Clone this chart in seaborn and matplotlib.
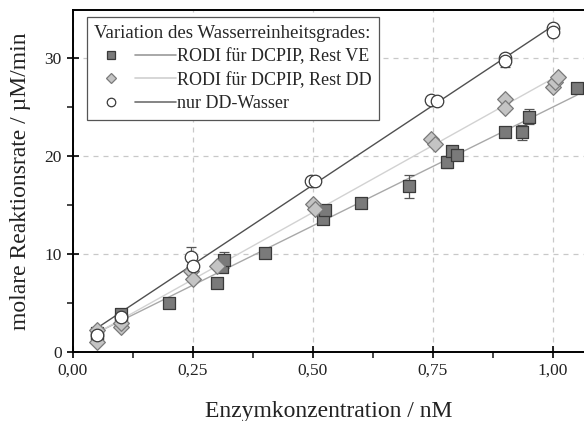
import numpy as np
import pandas as pd
import seaborn as sns
import matplotlib.pyplot as plt
from matplotlib.lines import Line2D
from matplotlib.legend_handler import HandlerBase
from matplotlib.ticker import FixedLocator, MultipleLocator

# --- data -------------------------------------------------------------
labels = ["RODI für DCPIP, Rest VE", "RODI für DCPIP, Rest DD", "nur DD-Wasser"]

ve_x = [0.05, 0.05, 0.10, 0.10, 0.20, 0.30, 0.31, 0.315, 0.40, 0.52, 0.525,
        0.60, 0.70, 0.78, 0.79, 0.80, 0.90, 0.935, 0.95, 1.05]
ve_y = [1.5, 1.9, 3.3, 3.9, 5.0, 7.0, 8.7, 9.4, 10.1, 13.6, 14.5,
        15.2, 16.9, 19.4, 20.5, 20.1, 22.5, 22.4, 24.0, 26.9]
ve_err = [0.2, 0.2, 0.2, 0.2, 0.2, 0.2, 0.2, 0.8, 0.2, 0.3, 0.3,
          0.2, 1.15, 0.6, 0.3, 0.3, 0.2, 0.75, 0.75, 0.2]

dd_x = [0.05, 0.05, 0.10, 0.10, 0.245, 0.25, 0.30, 0.50, 0.505, 0.745,
        0.755, 0.90, 0.90, 1.00, 1.005, 1.01]
dd_y = [1.05, 2.2, 2.6, 3.0, 8.3, 7.4, 8.8, 15.1, 14.6, 21.7,
        21.2, 25.8, 24.9, 27.0, 27.6, 28.1]
dd_err = [0.2, 0.2, 0.2, 0.2, 0.3, 0.3, 0.2, 0.2, 0.2, 0.2,
          0.2, 0.3, 0.3, 0.2, 0.2, 0.2]

w_x = [0.05, 0.10, 0.245, 0.25, 0.495, 0.505, 0.745, 0.758, 0.90, 0.90, 1.00, 1.00]
w_y = [1.7, 3.6, 9.7, 8.8, 17.4, 17.4, 25.7, 25.6, 30.0, 29.7, 33.1, 32.7]
w_err = [0.2, 0.2, 1.0, 0.3, 0.2, 0.2, 0.2, 0.2, 0.3, 0.6, 0.2, 0.2]

x_ticks = [0.0, 0.25, 0.5, 0.75, 1.0]
x_ticklabels = ["0,00", "0,25", "0,50", "0,75", "1,00"]
y_ticks = [0, 10, 20, 30]

# --- style ------------------------------------------------------------
sns.set_theme(style="white")
plt.rcParams["font.family"] = ["Liberation Serif", "DejaVu Serif"]

styles = [
    dict(marker="s", face="#7a7a7a", edge="#3a3a3a", line="#a8a8a8", leg_line="#9a9a9a", ms=8.5),
    dict(marker="D", face="#c4c4c4", edge="#7a7a7a", line="#d2d2d2", leg_line="#d0d0d0", ms=8.0),
    dict(marker="o", face="white", edge="#3a3a3a", line="#505050", leg_line="#707070", ms=9.0),
]
series = [(ve_x, ve_y, ve_err), (dd_x, dd_y, dd_err), (w_x, w_y, w_err)]


class MarkerThenLine(HandlerBase):
    """Legend entry: symbol on the left, fit line to its right."""

    def create_artists(self, legend, orig_handle, xdescent, ydescent,
                       width, height, fontsize, trans):
        mk, ln = orig_handle
        y = height / 2 - ydescent
        m = Line2D([width * 0.2 - xdescent], [y], ls="none",
                   marker=mk.get_marker(), markersize=mk.get_markersize(),
                   markerfacecolor=mk.get_markerfacecolor(),
                   markeredgecolor=mk.get_markeredgecolor(),
                   markeredgewidth=mk.get_markeredgewidth(), transform=trans)
        l = Line2D([width * 0.5 - xdescent, width - xdescent], [y, y],
                   color=ln.get_color(), lw=ln.get_linewidth(), transform=trans)
        return [l, m]


fig = plt.figure(figsize=(5.84, 4.21), dpi=100)
ax = fig.add_axes([73 / 584, 69 / 421, 1 - 73 / 584, (352 - 10) / 421])

handles = []
for (xs, ys, es), st, lab in zip(series, styles, labels):
    df = pd.DataFrame({"x": xs, "y": ys})
    # linear fit over the measured concentration range
    sns.regplot(data=df, x="x", y="y", ax=ax, ci=None, scatter=False,
                line_kws=dict(color=st["line"], lw=1.0, zorder=2))
    ax.errorbar(xs, ys, yerr=es, fmt="none", ecolor="#555555", elinewidth=0.9,
                capsize=3.5, capthick=0.9, zorder=3)
    sns.scatterplot(data=df, x="x", y="y", ax=ax, marker=st["marker"],
                    s=st["ms"] ** 2, color=st["face"], edgecolor=st["edge"],
                    linewidth=0.9, zorder=4, legend=False)
    mk = Line2D([], [], ls="none", marker=st["marker"], markersize=st["ms"] * 0.68,
                markerfacecolor=st["face"], markeredgecolor=st["edge"], markeredgewidth=0.9)
    ln = Line2D([], [], color=st["leg_line"], lw=1.2)
    handles.append((mk, ln))

# --- axes -------------------------------------------------------------
ax.set_xlim(0, 1.0646)
ax.set_ylim(0, 34.9)
ax.xaxis.set_major_locator(FixedLocator(x_ticks))
ax.set_xticklabels(x_ticklabels)
ax.xaxis.set_minor_locator(MultipleLocator(0.125))
ax.yaxis.set_major_locator(FixedLocator(y_ticks))
ax.yaxis.set_minor_locator(MultipleLocator(5))

ax.grid(True, which="major", color="#c8c8c8", ls=(0, (4, 4)), lw=0.9)
ax.set_axisbelow(True)
for side in ("left", "bottom", "top"):
    ax.spines[side].set_visible(True)
    ax.spines[side].set_color("black")
    ax.spines[side].set_linewidth(1.4)
ax.spines["right"].set_visible(False)

ax.tick_params(which="major", direction="inout", length=8, width=1.2,
               labelsize=12.5, colors="black", bottom=True, left=True, pad=4)
ax.tick_params(which="minor", direction="out", length=4, width=1.2,
               bottom=True, left=True)
ax.tick_params(axis="both", labelcolor="#222222")

ax.set_xlabel("Enzymkonzentration / nM", fontsize=17, color="#222222", labelpad=16)
ax.set_ylabel("molare Reaktionsrate / µM/min", fontsize=17, color="#222222", labelpad=10)

leg = ax.legend(handles, labels, handler_map={tuple: MarkerThenLine()},
                title="Variation des Wasserreinheitsgrades:", alignment="left",
                loc="upper left", bbox_to_anchor=(0.027, 0.979), fontsize=13,
                title_fontsize=13.6, handlelength=4.5, handletextpad=0.05,
                labelspacing=0.36, borderpad=0.42, borderaxespad=0,
                frameon=True, fancybox=False, framealpha=1, edgecolor="#555555")
leg.get_frame().set_linewidth(0.9)
leg.set_zorder(6)

fig.savefig("out.png", dpi=100)
